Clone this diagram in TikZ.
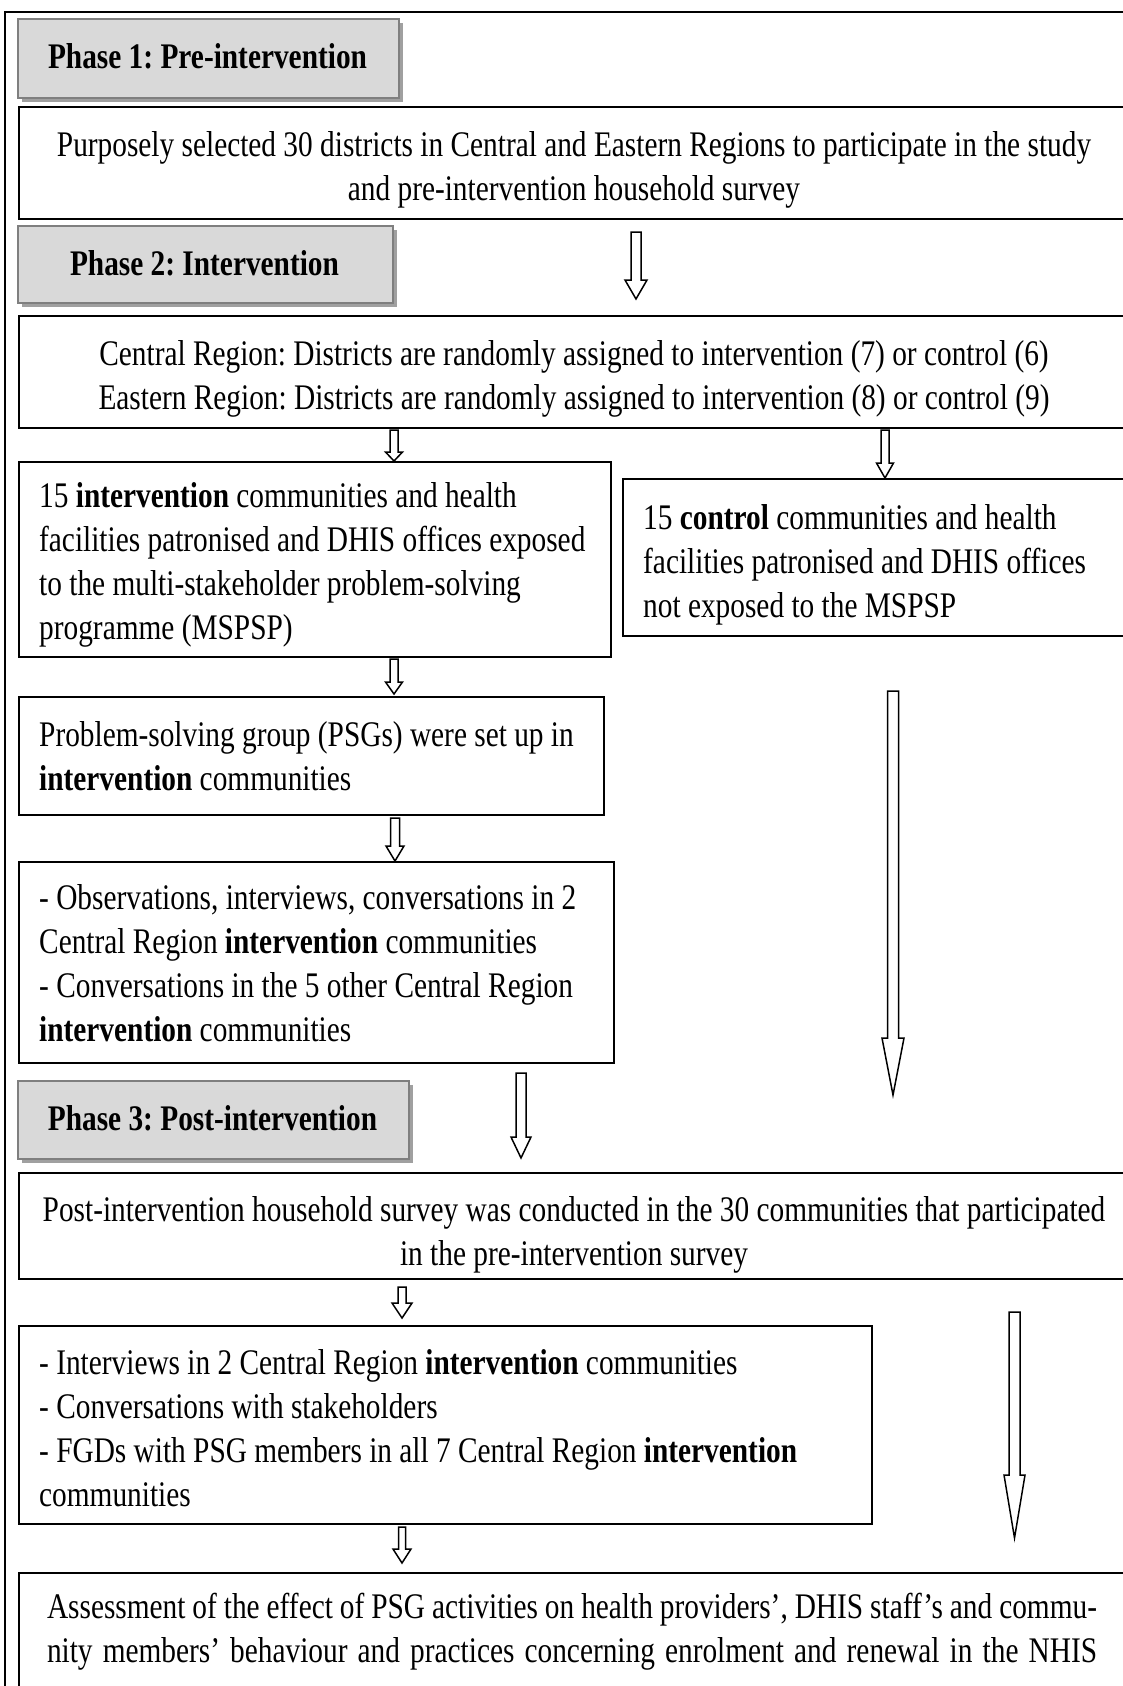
\documentclass[tikz,border=0pt]{standalone}
\usepackage{fontspec}
% Times-metric serif, set tall and narrow
\setmainfont{Liberation Serif}[FakeStretch=0.815]
\frenchspacing
\usetikzlibrary{shadows}
\definecolor{phasefill}{HTML}{D9D9D9}
\definecolor{phaseedge}{HTML}{7F7F7F}
\definecolor{phaseshadow}{HTML}{A0A0A0}
% word spaces to suit the narrowed glyphs
\newcommand{\bodyspacing}{\spaceskip=7.34pt plus 4pt minus 2pt\relax\xspaceskip=0pt\relax}
\newcommand{\bodyfont}{\fontsize{36}{44}\selectfont\bodyspacing}
\newcommand{\phasetitlefont}{\fontsize{36}{44}\selectfont\bfseries\bodyspacing}
% hollow block arrow pointing down:
% centre x, top y, head start y, tip y, half shaft width, half head width
\newcommand{\blockdown}[6]{%
  \draw[hollow] (#1-#5,#2) -- (#1+#5,#2) -- (#1+#5,#3) -- (#1+#6,#3)
    -- (#1,#4) -- (#1-#6,#3) -- (#1-#5,#3) -- cycle;}
\begin{document}
\begin{tikzpicture}[x=1pt,y=-1pt,
  panel/.style={draw=black, line width=1.6pt, fill=white, anchor=north west, inner sep=0pt},
  phase/.style={draw=phaseedge, fill=phasefill, line width=2pt, anchor=north west, inner sep=0pt,
    drop shadow={shadow xshift=4pt, shadow yshift=-4pt, fill=phaseshadow, opacity=1}},
  txt/.style={inner sep=0pt, font=\bodyfont, execute at begin node=\bodyspacing},
  ltxt/.style={txt, anchor=base west, text width=640pt, align=flush left},
  ctxt/.style={txt, anchor=base, text width=1100pt, align=flush center},
  ptxt/.style={inner sep=0pt, anchor=base, font=\phasetitlefont},
  hollow/.style={draw=black, line width=1.5pt, fill=white, line join=miter}]
\useasboundingbox (0,0) rectangle (1123,1686);
\clip (0,0) rectangle (1123,1686);

% outer frame
\draw[line width=2pt] (5,12) rectangle (1150,1710);

% ---------- Phase 1 ----------
\node[phase, minimum width=381pt, minimum height=79pt] (p1) at (17,18) {};
\node[ptxt] (p1t) at (207.5,68) {Phase 1: Pre-intervention};

\node[panel, minimum width=1112pt, minimum height=112pt] (b1) at (18,106) {};
\node[ctxt] (b1t) at (574,156) {Purposely selected 30 districts in Central and Eastern Regions to participate in the study\\
and pre-intervention household survey};

\blockdown{636}{232}{280}{299}{5}{11}

% ---------- Phase 2 ----------
\node[phase, minimum width=375pt, minimum height=77pt] (p2) at (17,225) {};
\node[ptxt] (p2t) at (204.5,275) {Phase 2: Intervention};

\node[panel, minimum width=1112pt, minimum height=112pt] (b2) at (18,315) {};
\node[ctxt] (b2t) at (574,365) {Central Region: Districts are randomly assigned to intervention (7) or control (6)\\
Eastern Region: Districts are randomly assigned to intervention (8) or control (9)};

\blockdown{394}{430}{452}{461}{4}{8.5}
\blockdown{885}{430}{463}{478}{4}{8.5}

\node[panel, minimum width=592pt, minimum height=195pt] (b3) at (18,461) {};
\node[ltxt] (b3t) at (39,507) {15 \textbf{intervention} communities and health\\
facilities patronised and DHIS offices exposed\\
to the multi-stakeholder problem-solving\\
programme (MSPSP)};

\node[panel, minimum width=508pt, minimum height=157pt] (b4) at (622,478) {};
\node[ltxt] (b4t) at (643,529) {15 \textbf{control} communities and health\\
facilities patronised and DHIS offices\\
not exposed to the MSPSP};

\blockdown{394}{659}{682}{694}{4}{8.5}

\node[panel, minimum width=585pt, minimum height=118pt] (b5) at (18,696) {};
\node[ltxt] (b5t) at (39,746) {Problem-solving group (PSGs) were set up in\\
\textbf{intervention} communities};

\blockdown{395}{818}{846}{861}{4.5}{9}

\node[panel, minimum width=595pt, minimum height=201pt] (b6) at (18,861) {};
\node[ltxt] (b6t) at (39,909) {- Observations, interviews, conversations in 2\\
Central Region \textbf{intervention} communities\\
- Conversations in the 5 other Central Region\\
\textbf{intervention} communities};

\blockdown{893}{691}{1038}{1095}{5.5}{11}

% ---------- Phase 3 ----------
\node[phase, minimum width=391pt, minimum height=78pt] (p3) at (17,1080) {};
\node[ptxt] (p3t) at (212.5,1130) {Phase 3: Post-intervention};

\blockdown{521}{1073}{1137}{1158}{5}{10}

\node[panel, minimum width=1112pt, minimum height=106pt] (b7) at (18,1172) {};
\node[ctxt] (b7t) at (574,1221) {Post-intervention household survey was conducted in the 30 communities that participated\\
in the pre-intervention survey};

\blockdown{402}{1287}{1303}{1318}{4}{10}

\node[panel, minimum width=853pt, minimum height=198pt] (b8) at (18,1325) {};
\node[ltxt, text width=840pt] (b8t) at (39,1374) {- Interviews in 2 Central Region \textbf{intervention} communities\\
- Conversations with stakeholders\\
- FGDs with PSG members in all 7 Central Region \textbf{intervention}\\
communities};

\blockdown{1014.5}{1312}{1475}{1538}{5.5}{10.5}

\blockdown{402}{1527}{1549}{1563}{3.5}{9}

\node[panel, minimum width=1112pt, minimum height=130pt] (b9) at (18,1572) {};
\node[ctxt] (b9t) at (572,1618) {\makebox[1050pt][s]{Assessment of the effect of PSG activities on health providers’, DHIS staff’s and commu-}\\
\makebox[1050pt][s]{nity members’ behaviour and practices concerning enrolment and renewal in the NHIS}};
\end{tikzpicture}
\end{document}
